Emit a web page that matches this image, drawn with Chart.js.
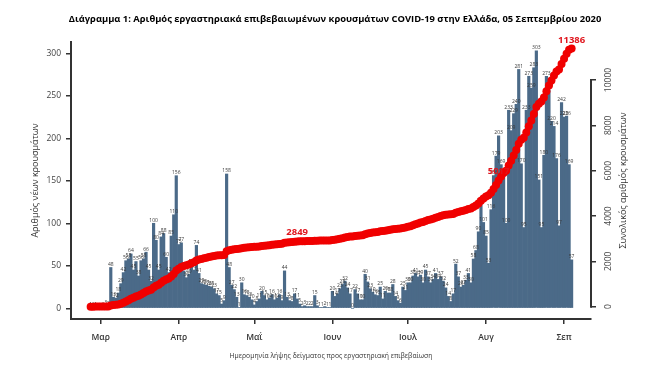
<!DOCTYPE html>
<html>
<head>
<meta charset="utf-8">
<script src="https://cdn.jsdelivr.net/npm/chart.js@4.4.0/dist/chart.umd.min.js"></script>
<style>
  html, body { margin: 0; padding: 0; background: #fff; }
</style>
</head>
<body>
<canvas id="grapCovid" width="670" height="372"></canvas>
<script>
// new lab-confirmed cases per day (by sample date), 26 Feb - 4 Sep 2020
var casesFeb = [1, 1, 1, 0];
var casesMar = [0, 1, 3, 2, 48, 13, 12, 18, 29, 42, 56, 58, 64, 45, 55, 38, 56, 58, 66, 45, 32, 100, 80, 45, 84, 88, 60, 42, 85, 110, 156];
var casesApr = [75, 77, 44, 36, 40, 52, 45, 74, 41, 29, 28, 27, 26, 25, 23, 17, 15, 5, 9, 158, 48, 27, 22, 13, 1, 30, 16, 15, 13, 10];
var casesMay = [4, 8, 11, 20, 15, 10, 12, 16, 10, 12, 16, 9, 44, 13, 9, 8, 17, 11, 5, 2, 3, 2, 2, 2, 15, 3, 1, 1, 2, 1, 1];
var casesJun = [20, 14, 17, 23, 28, 32, 24, 17, 0, 22, 17, 10, 10, 40, 31, 23, 19, 16, 15, 25, 11, 20, 18, 18, 28, 14, 9, 6, 25, 21];
var casesJul = [30, 30, 38, 41, 37, 39, 30, 45, 37, 30, 34, 41, 34, 37, 32, 24, 14, 8, 17, 52, 37, 25, 27, 33, 41, 30, 58, 68, 90, 123, 101];
var casesAug = [85, 53, 116, 156, 179, 203, 169, 159, 100, 233, 209, 229, 240, 281, 170, 95, 233, 273, 259, 283, 303, 151, 95, 180, 273, 257, 220, 214, 176, 97, 242];
var casesSep = [225, 226, 169, 57];

var monthLabels = ['Μαρ', 'Απρ', 'Μαΐ', 'Ιουν', 'Ιουλ', 'Αυγ', 'Σεπ'];
var leftTicks = [0, 50, 100, 150, 200, 250, 300];
var rightTicks = [0, 2000, 4000, 6000, 8000, 10000];

// cumulative values written on the red line
var cumLabelDays = [82, 162, 191];
var cumLabelTexts = ['2849', '5017', '11386'];

var months = [casesFeb, casesMar, casesApr, casesMay, casesJun, casesJul, casesAug, casesSep];
var dailyCases = [].concat.apply([], months);

// day index of the 1st of each month (Mar..Sep)
var monthDays = [];
var n = 0;
months.forEach(function (m, i) {
  if (i > 0) monthDays.push(n);
  n += m.length;
});

var barData = dailyCases.map(function (v, i) { return { x: i, y: v }; });
// the red line is the running total of the bars
var total = 0;
var cumData = dailyCases.map(function (v, i) { total += v; return { x: i, y: total }; });

var FONT = '"Open Sans", "Noto Sans", sans-serif';
var AXIS = '#333333';

var barValueLabels = {
  id: 'barValueLabels',
  afterDatasetDraw: function (chart, args) {
    if (args.index !== 0) return;
    var ctx = chart.ctx;
    ctx.save();
    ctx.font = '5px ' + FONT;
    ctx.fillStyle = '#3a3a3a';
    ctx.textAlign = 'center';
    ctx.textBaseline = 'bottom';
    args.meta.data.forEach(function (bar, i) {
      ctx.fillText(String(dailyCases[i]), bar.x, bar.y - 0.5);
    });
    ctx.restore();
  }
};

var extras = {
  id: 'extras',
  afterDraw: function (chart) {
    var ctx = chart.ctx;
    var s = chart.scales.y1;
    ctx.save();
    // right axis line only spans the labelled range
    ctx.strokeStyle = AXIS;
    ctx.lineWidth = 2;
    ctx.beginPath();
    ctx.moveTo(s.left, s.getPixelForValue(rightTicks[0]) + 1);
    ctx.lineTo(s.left, s.getPixelForValue(rightTicks[rightTicks.length - 1]) - 1);
    ctx.stroke();
    // right axis title
    ctx.translate(s.left + 32, (chart.chartArea.top + chart.chartArea.bottom) / 2);
    ctx.rotate(-Math.PI / 2);
    ctx.font = '9px ' + FONT;
    ctx.fillStyle = '#333';
    ctx.textAlign = 'center';
    ctx.textBaseline = 'middle';
    ctx.fillText('Συνολικός αριθμός κρουσμάτων', 0, 0);
    ctx.restore();

    // labels on the cumulative line
    var meta = chart.getDatasetMeta(1);
    ctx.save();
    ctx.font = 'bold 9.5px ' + FONT;
    ctx.fillStyle = '#e0141c';
    ctx.textAlign = 'center';
    ctx.textBaseline = 'bottom';
    cumLabelDays.forEach(function (d, k) {
      var p = meta.data[d];
      ctx.fillText(cumLabelTexts[k], p.x, p.y - 4);
    });
    ctx.restore();
  }
};

var ctx = document.getElementById('grapCovid');
new Chart(ctx, {
  type: 'bar',
  data: {
    datasets: [{
      type: 'bar',
      data: barData,
      yAxisID: 'y',
      backgroundColor: '#4b6a88',
      borderWidth: 0,
      barPercentage: 1,
      categoryPercentage: 1,
      order: 2
    }, {
      type: 'line',
      data: cumData,
      yAxisID: 'y1',
      borderColor: '#f00000',
      borderWidth: 5,
      pointRadius: 4,
      pointBackgroundColor: '#f00000',
      pointBorderWidth: 0,
      tension: 0,
      order: 1
    }]
  },
  options: {
    responsive: false,
    animation: false,
    devicePixelRatio: 1,
    layout: { padding: 0 },
    plugins: {
      legend: { display: false },
      tooltip: { enabled: false },
      title: {
        display: true,
        text: 'Διάγραμμα 1: Αριθμός εργαστηριακά επιβεβαιωμένων κρουσμάτων COVID-19 στην Ελλάδα, 05 Σεπτεμβρίου 2020',
        color: '#000',
        font: { family: FONT, size: 9.4, weight: 'bold' },
        padding: { top: 14, bottom: 16.7 }
      }
    },
    scales: {
      x: {
        type: 'linear',
        min: -7.8,
        max: 198.7,
        offset: false,
        afterBuildTicks: function (scale) {
          scale.ticks = monthDays.map(function (d) { return { value: d }; });
        },
        afterFit: function (scale) { scale.height = 53; },
        grid: { drawOnChartArea: false, drawTicks: true, tickLength: 5, color: AXIS, lineWidth: 1.5, offset: false },
        border: { display: true, color: AXIS, width: 2 },
        ticks: {
          autoSkip: false,
          maxRotation: 0,
          padding: 8,
          color: '#333',
          font: { family: FONT, size: 8.5, weight: '600' },
          callback: function (value, index) { return monthLabels[index]; }
        },
        title: {
          display: true,
          text: 'Ημερομηνία λήψης δείγματος προς εργαστηριακή επιβεβαίωση',
          color: '#333',
          font: { family: FONT, size: 6.8 },
          padding: { top: 0, bottom: 12 }
        }
      },
      y: {
        position: 'left',
        min: -12.6,
        max: 313.3,
        afterBuildTicks: function (scale) {
          scale.ticks = leftTicks.map(function (v) { return { value: v }; });
        },
        afterFit: function (scale) { scale.width = 71; },
        grid: { drawOnChartArea: false, drawTicks: true, tickLength: 5, color: AXIS, lineWidth: 1.5 },
        border: { display: true, color: AXIS, width: 2 },
        ticks: { padding: 5, color: '#444', font: { family: FONT, size: 8.5 } },
        title: {
          display: true,
          text: 'Αριθμός νέων κρουσμάτων',
          color: '#333',
          font: { family: FONT, size: 9 },
          padding: { top: 30, bottom: 0 }
        }
      },
      y1: {
        position: 'right',
        min: -543,
        max: 11676,
        afterBuildTicks: function (scale) {
          scale.ticks = rightTicks.map(function (v) { return { value: v }; });
        },
        afterFit: function (scale) { scale.width = 79; },
        grid: { drawOnChartArea: false, drawTicks: true, tickLength: 5, color: AXIS, lineWidth: 1.5 },
        border: { display: false },
        ticks: {
          minRotation: 90,
          maxRotation: 90,
          crossAlign: 'center',
          padding: 0,
          color: '#444',
          font: { family: FONT, size: 8.5 },
          callback: function (value) { return String(value); }
        }
      }
    }
  },
  plugins: [barValueLabels, extras]
});
</script>
</body>
</html>
